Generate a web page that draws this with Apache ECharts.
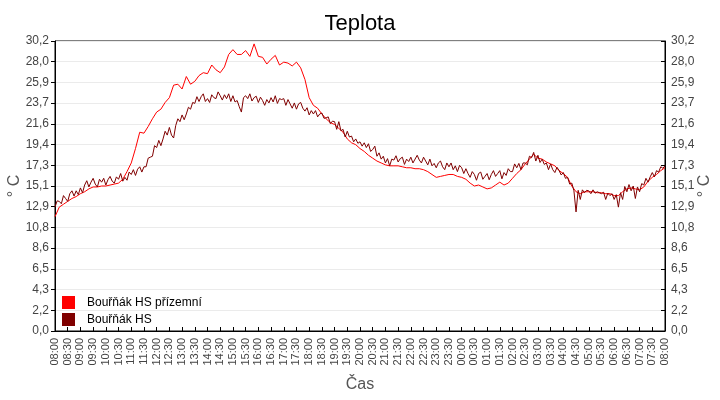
<!DOCTYPE html>
<html>
<head>
<meta charset="utf-8">
<title>Teplota</title>
<script src="https://cdn.jsdelivr.net/npm/echarts@6/dist/echarts.min.js"></script>
<style>
  html, body { margin: 0; padding: 0; background: #fff; }
  #main { width: 720px; height: 400px; }
</style>
</head>
<body>
<div id="main"></div>
<script>
// osa X: minuty od 08:00, jeden den
var startHour = 8;
var xMax = 1440;
var xStep = 30;

// osa Y
var yMax = 30.2;
var ySteps = 14;

var seriesNames = ["Bouřňák HS přízemní", "Bouřňák HS"];
var seriesColors = ["#ff0000", "#800000"];

// Bouřňák HS přízemní, vzorek po 10 min
var redStep = 10;
var redValues = [
    11.9, 12.9, 13.2, 13.5, 13.8, 14.0,
    14.3, 14.5, 14.8, 15.0, 15.0, 15.1,
    15.1, 15.2, 15.3, 15.4, 15.8, 16.6,
    17.5, 19.0, 20.7, 20.6, 21.3, 22.1,
    22.8, 23.1, 23.8, 24.3, 25.6, 25.7,
    25.2, 26.5, 25.7, 26.0, 26.6, 26.9,
    26.8, 27.7, 27.2, 26.9, 27.5, 28.8,
    29.3, 28.8, 28.8, 29.2, 28.6, 29.9,
    28.6, 28.5, 27.8, 28.3, 28.7, 27.7,
    28.0, 27.9, 27.6, 28.0, 27.4, 26.2,
    24.3, 23.5, 23.2, 22.6, 22.1, 21.7,
    21.5, 21.1, 20.7, 20.0, 19.6, 19.4,
    19.0, 18.7, 18.3, 18.0, 17.7, 17.5,
    17.3, 17.2, 17.2, 17.2, 17.1, 17.0,
    17.0, 16.9, 16.9, 16.8, 16.6, 16.3,
    16.0, 16.1, 16.2, 16.3, 16.3, 16.1,
    16.0, 15.8, 15.4, 15.1, 15.2, 15.0,
    14.8, 14.9, 15.2, 15.5, 15.2, 15.4,
    15.9, 16.4, 16.8, 17.4, 17.9, 18.4,
    18.0, 17.9, 17.6, 17.4, 17.2, 16.7,
    16.4, 16.0, 15.1, 14.5, 14.3, 14.5,
    14.5, 14.5, 14.4, 14.4, 14.3, 14.3,
    14.1, 14.1, 14.5, 14.8, 14.9, 14.8,
    14.7, 15.0, 15.6, 16.0, 16.3, 16.7,
    17.0
];

// Bouřňák HS, vzorek po 5 min (jedna řádka = hodina)
var darkStep = 5;
var darkValues = [
    12.9, 13.55, 13.5, 13.25, 14.1, 13.8, 13.5, 14.3, 14.6, 14.05, 14.6, 14.2,     // 08
    14.9, 14.4, 15.2, 15.65, 15.0, 15.5, 15.9, 15.3, 15.0, 15.8, 15.5, 15.9,       // 09
    15.2, 15.75, 16.1, 15.6, 15.4, 16.05, 15.8, 16.4, 15.6, 16.0, 15.7, 16.55,     // 10
    16.3, 16.8, 16.2, 16.85, 17.1, 16.55, 17.1, 17.1, 18.0, 18.1, 18.2, 19.3,      // 11
    19.1, 19.85, 19.3, 20.0, 20.8, 20.4, 21.2, 20.4, 20.1, 21.4, 22.1, 21.8,       // 12
    22.5, 22.0, 22.6, 23.3, 23.1, 23.8, 23.7, 24.4, 23.9, 24.4, 24.7, 23.9,        // 13
    24.2, 23.8, 24.6, 24.3, 24.2, 24.9, 24.5, 24.05, 24.6, 24.2, 24.7, 23.9,       // 14
    24.5, 23.85, 24.0, 23.35, 22.8, 24.3, 24.5, 24.2, 24.7, 23.95, 24.3, 24.45,    // 15
    23.8, 24.35, 24.0, 23.5, 24.1, 23.75, 24.3, 23.85, 24.5, 23.7, 24.2, 24.1,     // 16
    24.2, 23.5, 24.1, 23.65, 23.2, 23.75, 23.1, 23.65, 23.8, 23.2, 22.9, 23.25,    // 17
    22.5, 22.95, 22.6, 22.95, 22.3, 22.6, 22.7, 22.15, 22.2, 22.3, 21.6, 21.85,    // 18
    21.8, 21.0, 21.8, 20.85, 21.0, 20.2, 20.8, 20.2, 20.3, 19.7, 20.0, 19.55,      // 19
    19.7, 19.25, 19.6, 19.1, 19.5, 18.7, 18.9, 19.25, 18.2, 18.55, 17.9, 18.2,     // 20
    17.5, 17.95, 17.2, 17.9, 17.8, 18.25, 17.6, 17.95, 18.1, 17.35, 17.9, 17.65,   // 21
    18.1, 17.5, 17.9, 18.3, 17.8, 17.5, 18.1, 17.7, 17.3, 17.9, 17.2, 17.45,       // 22
    17.0, 17.5, 17.7, 17.1, 16.8, 17.5, 17.1, 17.5, 16.8, 17.2, 16.6, 17.25,       // 23
    17.0, 16.4, 16.9, 16.4, 16.0, 16.6, 16.3, 15.7, 16.4, 16.55, 15.8, 16.1,       // 00
    16.4, 15.75, 16.3, 16.7, 16.1, 16.4, 16.7, 15.85, 16.5, 16.2, 16.9, 16.6,      // 01
    16.6, 17.4, 17.0, 17.45, 16.8, 17.5, 17.5, 17.3, 18.2, 18.05, 18.6, 17.7,      // 02
    18.3, 17.55, 17.9, 17.35, 17.5, 16.8, 17.4, 16.8, 16.5, 17.05, 16.7, 16.25,    // 03
    16.5, 15.9, 16.0, 15.3, 15.4, 14.6, 12.4, 14.65, 13.7, 14.7, 14.4, 14.65,      // 04
    14.6, 14.3, 14.7, 14.35, 14.5, 14.4, 14.3, 14.45, 13.7, 14.35, 14.1, 14.3,     // 05
    13.7, 14.2, 12.9, 14.4, 13.7, 15.05, 14.5, 15.25, 14.6, 15.1, 13.8, 15.0,      // 06
    14.5, 15.35, 15.2, 15.9, 15.5, 16.05, 16.5, 16.05, 16.7, 16.55, 17.1, 16.95,   // 07
    17.2
];

function toPairs(values, step) {
    return values.map(function (v, i) { return [i * step, v]; });
}

function timeLabel(m) {
    var h = (startHour + Math.floor(m / 60)) % 24;
    var mm = m % 60;
    return (h < 10 ? "0" : "") + h + ":" + (mm < 10 ? "0" : "") + mm;
}

function yLabel(v) {
    return v.toFixed(1).replace(".", ",");
}

var font = "Liberation Sans, Arial, sans-serif";
var yInterval = yMax / ySteps;

function makeYAxis(pos) {
    return {
        type: "value",
        position: pos,
        min: 0,
        max: yMax,
        interval: yInterval,
        name: "° C",
        nameLocation: "middle",
        nameRotate: 90,
        nameGap: 32,
        nameMoveOverlap: false,
        nameTextStyle: { color: "#555", fontSize: 16, fontFamily: font },
        axisLine: { show: true, lineStyle: { color: "#000", width: 1 } },
        axisTick: { show: true, inside: pos === "right", length: 4, lineStyle: { color: "#000" } },
        axisLabel: { color: "#444", fontSize: 12, fontFamily: font, margin: 6, formatter: yLabel },
        splitLine: { show: pos === "left", lineStyle: { color: "#ebebeb", width: 1 } }
    };
}

var chart = echarts.init(document.getElementById("main"), null, { renderer: "canvas" });

chart.setOption({
    animation: false,
    backgroundColor: "#fff",
    title: {
        text: "Teplota",
        left: "center",
        top: 8,
        textStyle: { color: "#000", fontSize: 22, fontWeight: "normal", fontFamily: font }
    },
    legend: {
        orient: "vertical",
        left: 62,
        top: 296,
        padding: 0,
        itemWidth: 13,
        itemHeight: 13,
        itemGap: 4,
        icon: "rect",
        textStyle: { color: "#000", fontSize: 12, fontFamily: font, padding: [0, 0, 0, 7] },
        data: seriesNames
    },
    grid: {
        left: 55,
        right: 55,
        top: 41,
        bottom: 69,
        show: true,
        borderColor: "#000",
        borderWidth: 1,
        containLabel: false,
        outerBoundsMode: "none"
    },
    xAxis: {
        type: "value",
        min: 0,
        max: xMax,
        interval: xStep,
        name: "Čas",
        nameLocation: "middle",
        nameGap: 46,
        nameTextStyle: { color: "#555", fontSize: 16, fontFamily: font },
        axisLine: { show: true, lineStyle: { color: "#000", width: 1 } },
        axisTick: { show: true, inside: true, length: 4, lineStyle: { color: "#000" } },
        axisLabel: { rotate: 90, color: "#444", fontSize: 11, fontFamily: font, margin: 7, formatter: timeLabel },
        splitLine: { show: false }
    },
    yAxis: [makeYAxis("left"), makeYAxis("right")],
    series: [
        {
            name: seriesNames[0],
            type: "line",
            yAxisIndex: 0,
            showSymbol: false,
            color: seriesColors[0],
            lineStyle: { width: 1, color: seriesColors[0] },
            data: toPairs(redValues, redStep)
        },
        {
            name: seriesNames[1],
            type: "line",
            yAxisIndex: 0,
            showSymbol: false,
            color: seriesColors[1],
            lineStyle: { width: 1, color: seriesColors[1] },
            data: toPairs(darkValues, darkStep)
        }
    ]
});
</script>
</body>
</html>
